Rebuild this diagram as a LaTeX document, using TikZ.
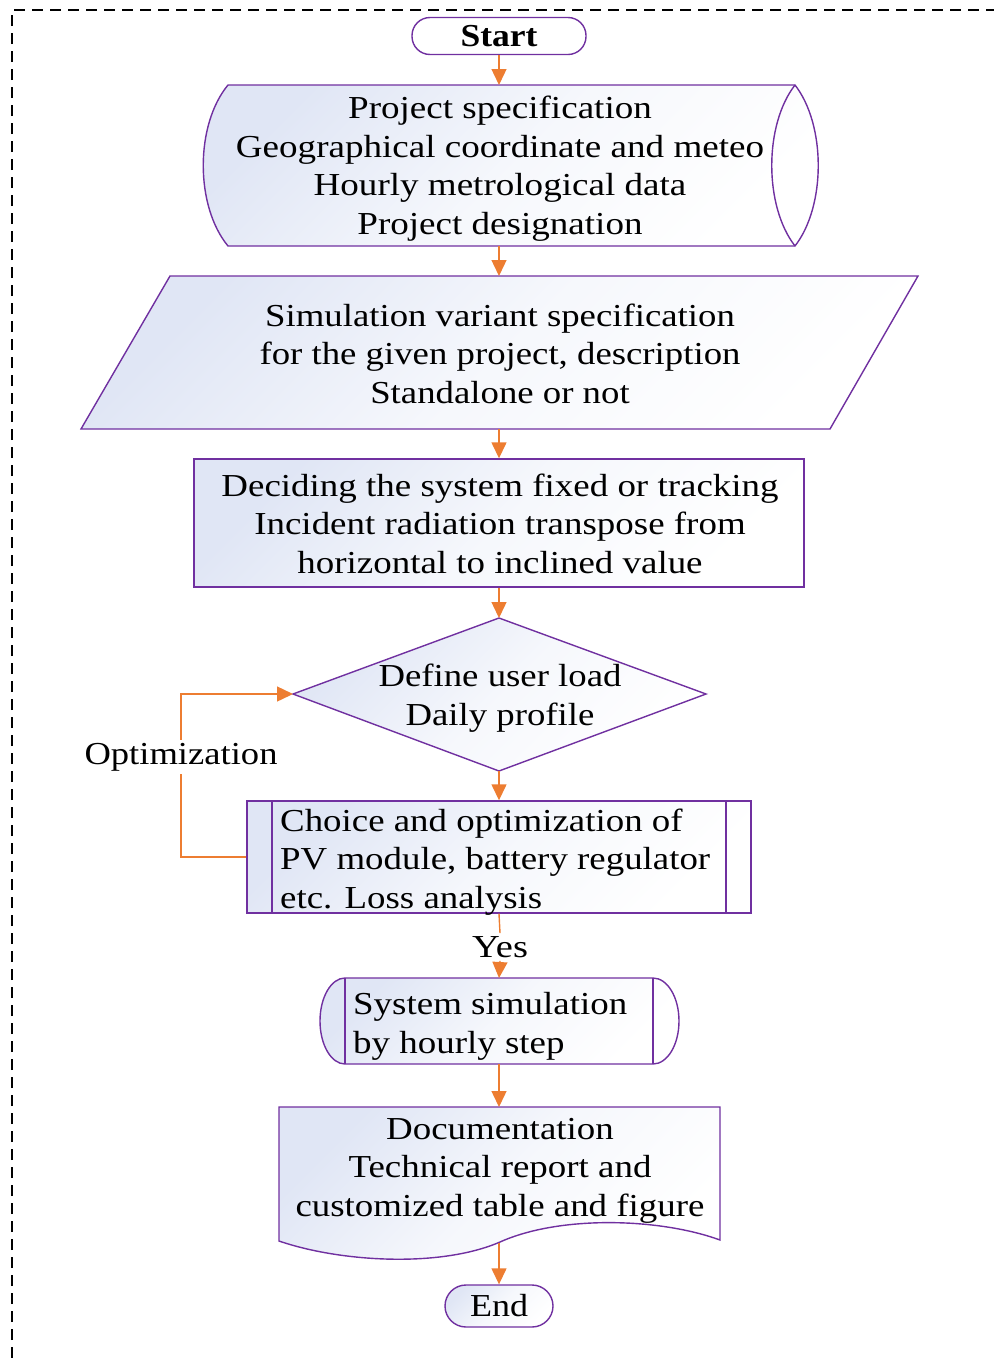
\documentclass[tikz,border=0pt]{standalone}
\usepackage{graphicx}
\usepackage{fontspec}
\setmainfont{Liberation Serif}
\usetikzlibrary{arrows.meta,shapes.geometric,calc}
\definecolor{purp}{RGB}{112,48,160}
\definecolor{orng}{RGB}{237,125,49}
\definecolor{fillc}{RGB}{224,230,245}
\newcommand\fitw[2]{\resizebox{#1}{\height}{#2}}
\newcommand\blk[1]{\begin{tabular}{@{}c@{}}#1\end{tabular}}
\newcommand\blkl[1]{\begin{tabular}{@{}l@{}}#1\end{tabular}}
\tikzset{
  shp/.style={draw=purp, line width=1.4pt, top color=fillc, bottom color=white, middle color=fillc!30!white, shading angle=45},
  pline/.style={draw=purp, line width=1.4pt},
  conn/.style={draw=orng, line width=1.4pt, -{Triangle[length=16pt,width=15pt]}},
  conn2/.style={draw=orng, line width=1.4pt},
  txt/.style={inner sep=0pt, font=\fontsize{32pt}{38.5pt}\selectfont, text=black},
  lbl/.style={txt, fill=white, inner sep=3pt},
}
\begin{document}
\begin{tikzpicture}[x=1pt,y=-1pt]
\useasboundingbox (0,0) rectangle (994,1358);
\draw[dash pattern=on 11pt off 7pt, line width=1.3pt] (12,1358) -- (12,10) -- (994,10);

% Start
\node[txt, pline, fill=white, rounded corners=18pt, minimum width=174pt, minimum height=37pt] (start) at (499,36) {\fitw{77pt}{\bfseries Start}};

% Project specification (stored data)
\path[shp] (228,85) -- (795,85) .. controls (826,125) and (826,206) .. (795,246) -- (228,246) .. controls (195,206) and (195,125) .. (228,85) -- cycle;
\draw[pline] (795,85) .. controls (764,125) and (764,206) .. (795,246);
\node[txt] (ps) at (500,169) {\fitw{528pt}{\blk{Project specification\\Geographical coordinate and meteo\\Hourly metrological data\\Project designation}}};
\coordinate (psN) at (499,85);
\coordinate (psS) at (499,246);

% Simulation variant (parallelogram)
\path[shp] (170,276) -- (918,276) -- (830,429) -- (81,429) -- cycle;
\node[txt] (sim) at (500,357) {\fitw{481pt}{\blk{Simulation variant specification\\for the given project, description\\Standalone or not}}};
\coordinate (simN) at (499,276);
\coordinate (simS) at (499,429);

% Deciding (rectangle)
\node[txt, shp, minimum width=610pt, minimum height=128pt] (dec) at (499,523) {};
\node[txt] (dect) at (500,527) {\fitw{557pt}{\blk{Deciding the system fixed or tracking\\Incident radiation transpose from\\horizontal to inclined value}}};

% Diamond
\path[shp] (499,618) -- (706,694) -- (499,771) -- (293,694) -- cycle;
\coordinate (diaN) at (499,618);
\coordinate (diaS) at (499,771);
\coordinate (diaW) at (293,694);
\node[txt] (diat) at (500,698.5) {\fitw{243pt}{\blk{Define user load\\Daily profile}}};

% Predefined process
\node[txt, shp, minimum width=504pt, minimum height=112pt] (proc) at (499,857) {};
\draw[pline] (272,801) -- (272,913) (726,801) -- (726,913);
\node[txt, anchor=west] (proct) at (280,862) {\fitw{430pt}{\blkl{Choice and optimization of\\PV module, battery regulator\\etc. Loss analysis}}};

% System simulation
\path[shp] (345,978) -- (653,978) .. controls (667.4,978) and (679,997.3) .. (679,1021) .. controls (679,1044.7) and (667.4,1064) .. (653,1064) -- (345,1064) .. controls (331.2,1064) and (320,1044.7) .. (320,1021) .. controls (320,997.3) and (331.2,978) .. (345,978) -- cycle;
\draw[pline] (345,978) -- (345,1064) (653,978) -- (653,1064);
\coordinate (sysN) at (499,978);
\coordinate (sysS) at (499,1064);
\node[txt, anchor=west] (syst) at (353,1026.5) {\fitw{274pt}{\blkl{System simulation\\by hourly step}}};

% Document
\path[shp] (279,1107) -- (720,1107) -- (720,1240) .. controls (660,1218) and (560,1215) .. (500,1242) .. controls (440,1268) and (340,1262) .. (279,1241) -- cycle;
\coordinate (docN) at (499,1107);
\coordinate (docS) at (499,1243);
\node[txt] (doct) at (500,1170) {\fitw{409pt}{\blk{Documentation\\Technical report and\\customized table and figure}}};

% End
\node[txt, shp, rounded corners=21pt, minimum width=108pt, minimum height=42pt] (end) at (499,1306) {\fitw{58pt}{End}};

% Labels
\node[lbl] (opt) at (181,757) {\fitw{193pt}{Optimization}};
\node[lbl] (yes) at (500,947) {\fitw{56pt}{Yes}};

% Connectors
\draw[conn] (start.south) -- (psN);
\draw[conn] (psS) -- (simN);
\draw[conn] (simS) -- (dec.north);
\draw[conn] (dec.south) -- (diaN);
\draw[conn] (diaS) -- (proc.north);
\draw[conn2] (proc.west) -| (opt.south);
\draw[conn] (opt.north) |- (diaW);
\draw[conn2] (proc.south) -- (yes.north);
\draw[conn] (yes.south) -- (sysN);
\draw[conn] (sysS) -- (docN);
\draw[conn] (docS) -- (end.north);
\end{tikzpicture}
\end{document}
